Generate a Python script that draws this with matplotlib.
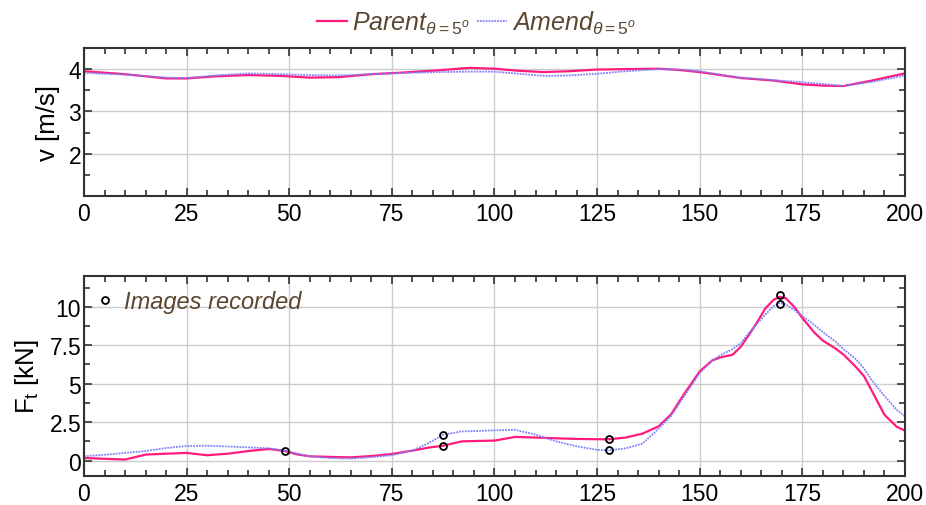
import matplotlib
matplotlib.use("Agg")
import matplotlib.pyplot as plt
from matplotlib.ticker import MultipleLocator

plt.rcParams['font.family'] = ['Liberation Sans', 'DejaVu Sans']
plt.rcParams['mathtext.fontset'] = 'custom'
plt.rcParams['mathtext.it'] = 'Liberation Sans:italic'
plt.rcParams['mathtext.rm'] = 'Liberation Sans'

# velocity, top panel
v_x = [0, 10, 20, 25, 32, 40, 48, 55, 62, 70, 78, 86, 94, 100, 106, 112, 118,
       125, 132, 140, 145, 150, 155, 160, 168, 175, 180, 185, 192, 200]
v_parent = [3.95, 3.88, 3.78, 3.78, 3.83, 3.86, 3.84, 3.80, 3.81, 3.88, 3.92, 3.97,
            4.03, 4.01, 3.96, 3.93, 3.95, 3.99, 4.00, 4.01, 3.98, 3.93, 3.86, 3.79,
            3.73, 3.64, 3.61, 3.60, 3.73, 3.90]
v_amend = [3.91, 3.87, 3.80, 3.79, 3.85, 3.90, 3.88, 3.86, 3.85, 3.88, 3.91, 3.93,
           3.94, 3.94, 3.89, 3.84, 3.85, 3.89, 3.95, 4.00, 3.99, 3.95, 3.87, 3.80,
           3.74, 3.69, 3.65, 3.60, 3.70, 3.85]

# tow force, bottom panel
f_x = [0, 5, 10, 15, 20, 25, 30, 35, 40, 45, 49, 52, 55, 60, 65, 70, 75, 80, 84, 87.5,
       92, 96, 100, 105, 110, 115, 120, 125, 128, 132, 136, 140, 143, 146, 150, 153,
       155, 158, 160, 162, 164, 166, 168, 169.5, 171, 173, 175, 178, 180, 183, 185,
       188, 190, 192, 195, 198, 200]
f_parent = [0.17, 0.12, 0.07, 0.39, 0.45, 0.50, 0.35, 0.45, 0.62, 0.76, 0.62, 0.40,
            0.28, 0.24, 0.21, 0.30, 0.43, 0.65, 0.85, 0.97, 1.25, 1.28, 1.30, 1.54,
            1.50, 1.45, 1.41, 1.39, 1.39, 1.50, 1.75, 2.23, 3.00, 4.25, 5.80, 6.50,
            6.71, 6.88, 7.40, 8.18, 9.00, 9.90, 10.45, 10.65, 10.55, 10.00, 9.27,
            8.30, 7.80, 7.30, 6.90, 6.10, 5.50, 4.50, 2.98, 2.20, 1.95]
f_amend = [0.28, 0.38, 0.50, 0.62, 0.82, 0.95, 0.97, 0.92, 0.86, 0.80, 0.65, 0.45,
           0.28, 0.16, 0.13, 0.22, 0.35, 0.65, 1.15, 1.68, 1.90, 1.93, 1.97, 2.00,
           1.69, 1.25, 0.93, 0.70, 0.67, 0.80, 1.10, 2.08, 2.90, 4.10, 5.69, 6.50,
           6.84, 7.25, 7.64, 8.30, 8.90, 9.50, 10.05, 10.24, 10.15, 9.80, 9.40,
           8.80, 8.35, 7.75, 7.25, 6.60, 6.00, 5.20, 4.20, 3.30, 2.88]

# images recorded
img_x = [49, 87.5, 87.5, 127.8, 127.8, 169.5, 169.5]
img_y = [0.62, 0.97, 1.68, 1.39, 0.68, 10.78, 10.19]

pink = '#ff1a7c'
blue = '#8080ff'
brown = '#5b4630'
edge = '#333333'

fig = plt.figure(figsize=(9.26, 5.06), dpi=100)
ax1 = fig.add_axes([0.0907, 0.6107, 0.8866, 0.2925])
ax2 = fig.add_axes([0.0907, 0.0573, 0.8866, 0.3953])

lp, = ax1.plot(v_x, v_parent, color=pink, lw=1.6)
la, = ax1.plot(v_x, v_amend, color=blue, lw=1.3, ls=(0, (1, 0.6)))
ax2.plot(f_x, f_parent, color=pink, lw=1.6)
ax2.plot(f_x, f_amend, color=blue, lw=1.3, ls=(0, (1, 0.6)))
mk, = ax2.plot(img_x, img_y, 'o', ms=5, mfc='none', mec='black', mew=1.3)

for ax in (ax1, ax2):
    ax.set_xlim(0, 200)
    ax.xaxis.set_major_locator(MultipleLocator(25))
    ax.xaxis.set_minor_locator(MultipleLocator(5))
    ax.grid(True, which='major', color='#cccccc', lw=1)
    ax.set_axisbelow(True)
    ax.tick_params(which='both', direction='in', top=True, right=True,
                   labelsize=16.5, color=edge)
    ax.tick_params(axis='y', pad=2)
    ax.tick_params(axis='x', pad=4)
    ax.tick_params(which='major', length=6, width=1.2)
    ax.tick_params(which='minor', length=4, width=1.2)
    for s in ax.spines.values():
        s.set_color(edge)
        s.set_linewidth(1.5)

ax1.set_ylim(1, 4.5)
ax1.yaxis.set_major_locator(MultipleLocator(1))
ax1.yaxis.set_minor_locator(MultipleLocator(0.5))
ax1.set_yticks([2, 3, 4])
ax1.set_ylabel('v [m/s]', fontsize=18.5, labelpad=6)

ax2.set_ylim(-1, 12)
ax2.yaxis.set_major_locator(MultipleLocator(2.5))
ax2.yaxis.set_minor_locator(MultipleLocator(1.25))
ax2.set_yticks([0, 2.5, 5, 7.5, 10])
ax2.set_yticklabels(['0', '2.5', '5', '7.5', '10'])
ax2.set_ylabel('F$_\\mathrm{t}$ [kN]', fontsize=18.5, labelpad=6)

leg = fig.legend([lp, la], ['$\\mathit{Parent}_{\\mathit{\\theta=5^o}}$',
                            '$\\mathit{Amend}_{\\mathit{\\theta=5^o}}$'],
                 loc='upper center', bbox_to_anchor=(0.515, 1.025), ncol=2, frameon=False,
                 fontsize=18, handlelength=1.2, handletextpad=0.2, columnspacing=0.3)
for t in leg.get_texts():
    t.set_color(brown)

leg2 = ax2.legend([mk], ['Images recorded'], loc='upper left', frameon=False,
                  prop={'style': 'italic', 'size': 17}, handlelength=0.6,
                  handletextpad=0.5, borderaxespad=0.2)
for t in leg2.get_texts():
    t.set_color(brown)

fig.savefig('out.png', dpi=100)
